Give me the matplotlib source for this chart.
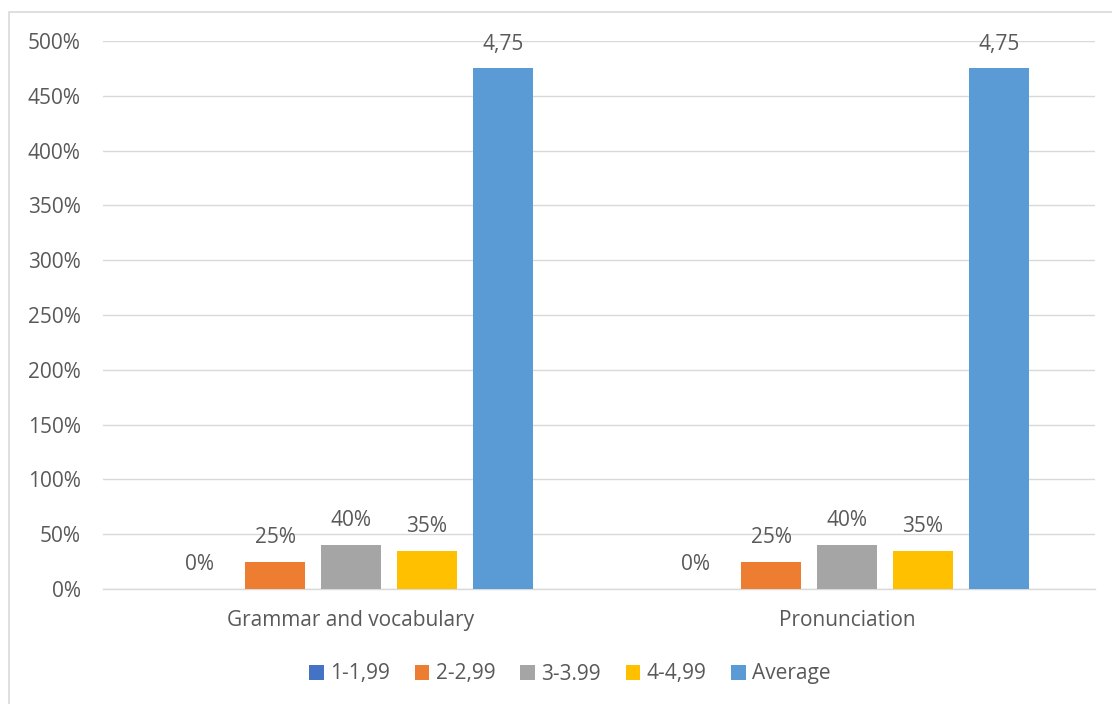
import matplotlib
matplotlib.use("Agg")
import matplotlib.pyplot as plt
import numpy as np
from matplotlib.patches import Rectangle
from matplotlib.ticker import FuncFormatter, MultipleLocator

categories = ["Grammar and vocabulary", "Pronunciation"]
series_names = ["1-1,99", "2-2,99", "3-3.99", "4-4,99", "Average"]
series_values = {
    "1-1,99": [0.00, 0.00],
    "2-2,99": [0.25, 0.25],
    "3-3.99": [0.40, 0.40],
    "4-4,99": [0.35, 0.35],
    "Average": [4.75, 4.75],
}
colors = ["#4472C4", "#ED7D31", "#A5A5A5", "#FFC000", "#5B9BD5"]

TEXT = "#595959"
GRID = "#D9D9D9"
FS = 15
plt.rcParams["font.family"] = ["Open Sans", "DejaVu Sans"]
plt.rcParams["font.size"] = FS

fig = plt.figure(figsize=(11.12, 7.04), dpi=100)
ax = fig.add_axes([103 / 1112, 1 - 589 / 704, 992 / 1112, 548 / 704])

# outer chart frame
fig.patches.append(Rectangle((9 / 1112, -0.05), 1.2, 1 - 12 / 704 + 0.05,
                             transform=fig.transFigure, fill=False,
                             edgecolor=GRID, linewidth=1.2, clip_on=False))

x = np.arange(len(categories))
pitch = 0.153
width = 0.121
for i, (name, color) in enumerate(zip(series_names, colors)):
    vals = series_values[name]
    bars = ax.bar(x + (i - 2) * pitch, vals, width, color=color, label=name, zorder=3)
    if name == "Average":
        labels = [f"{v:.2f}".replace(".", ",") for v in vals]
    else:
        labels = [f"{v:.0%}" for v in vals]
    ax.bar_label(bars, labels=labels, padding=10, color=TEXT, fontsize=FS)

ax.set_xlim(-0.5, 1.5)
ax.set_ylim(0, 5)
ax.yaxis.set_major_locator(MultipleLocator(0.5))
ax.yaxis.set_major_formatter(FuncFormatter(lambda v, _: f"{v:.0%}"))
ax.grid(axis="y", color=GRID, linewidth=1.0, zorder=0)
ax.set_xticks(x, categories)
ax.tick_params(axis="both", length=0, colors=TEXT, labelsize=FS)
ax.tick_params(axis="y", pad=16)
ax.tick_params(axis="x", pad=15)
for side in ["top", "right", "left"]:
    ax.spines[side].set_visible(False)
ax.spines["bottom"].set_color(GRID)
ax.spines["bottom"].set_linewidth(1.0)

leg = fig.legend(loc="center", bbox_to_anchor=(570 / 1112, 1 - 674 / 704), ncol=5,
                 frameon=False, handlelength=0.7, handleheight=0.7,
                 handletextpad=0.3, columnspacing=1.2, fontsize=FS)
for t in leg.get_texts():
    t.set_color(TEXT)

fig.savefig("out.png", dpi=100)
